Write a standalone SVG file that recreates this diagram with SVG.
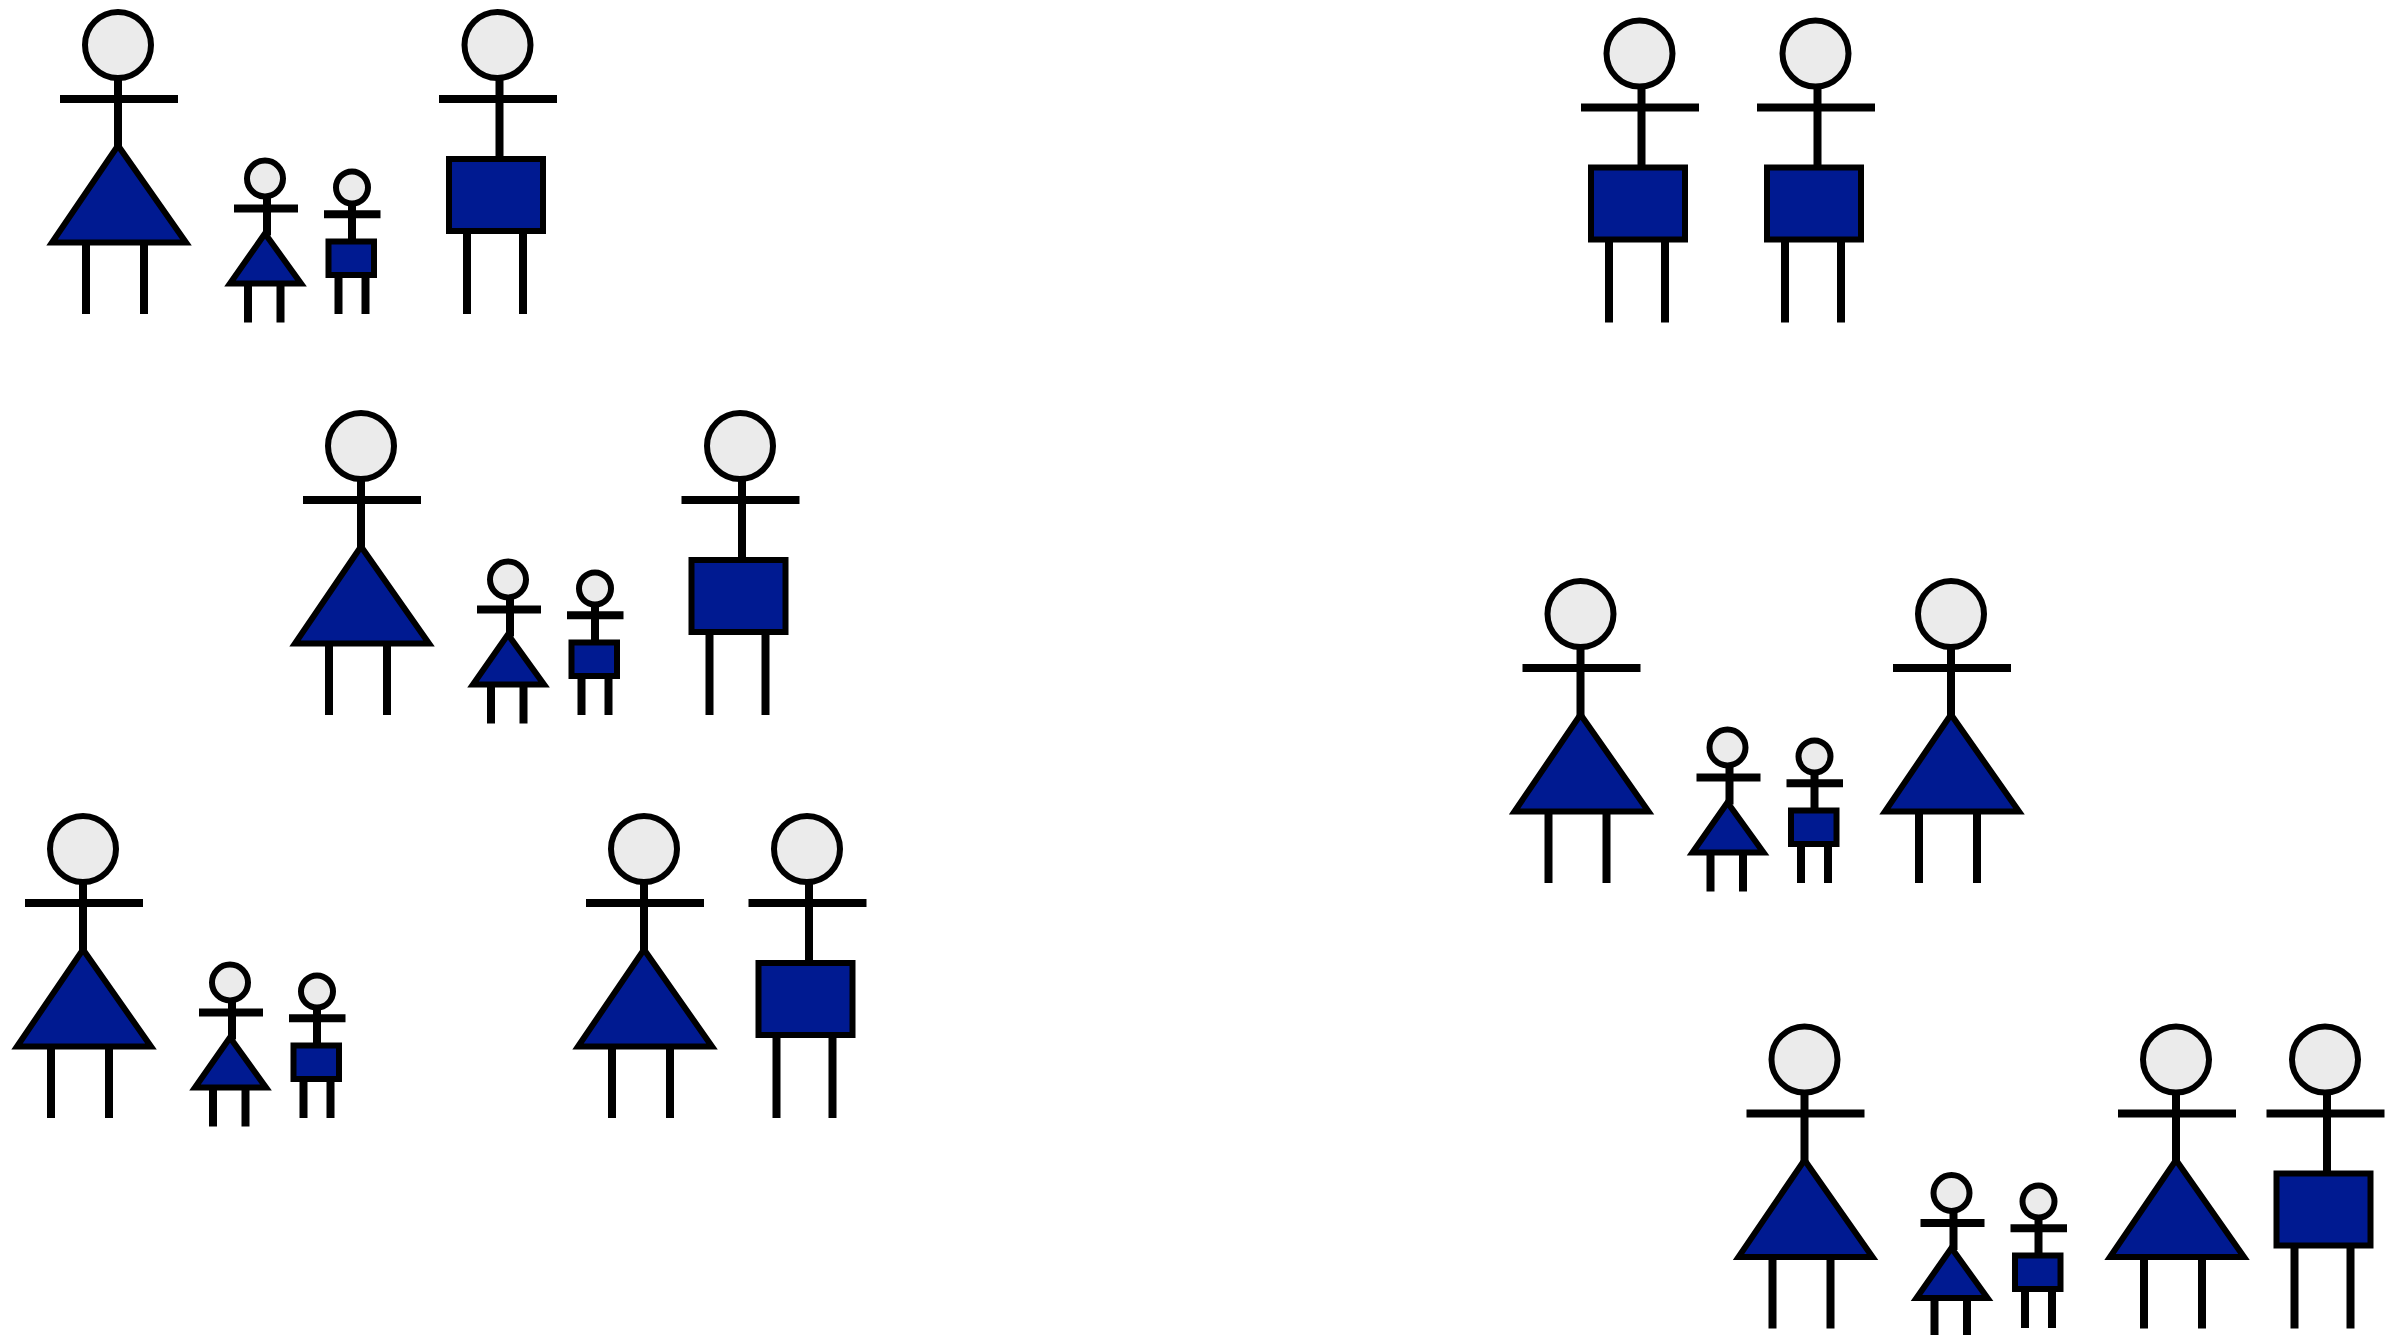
<svg xmlns="http://www.w3.org/2000/svg" xmlns:xlink="http://www.w3.org/1999/xlink" width="2399" height="1335" viewBox="0 0 2399 1335">
<style>
.b{fill:#001a91;stroke:#000;stroke-width:6;stroke-linejoin:miter}
.h{fill:#ebebeb;stroke:#000;stroke-width:6}
.l{stroke:#000;stroke-width:8;fill:none}
.a{stroke:#000;stroke-width:8;fill:none}
</style>
<defs>
<g id="woman"><path class="l" d="M0 33V102M-32 198V269M26 198V269"/><path class="a" d="M-58 54H60"/><circle class="h" r="33"/><path class="b" d="M0 100.500L68 197.500H-66Z"/></g>
<g id="man"><path class="l" d="M2 33V114M-30.500 186V269M25.500 186V269"/><path class="a" d="M-58.500 54H59.500"/><circle class="h" r="33"/><rect class="b" x="-48.500" y="114" width="94" height="72"/></g>
<g id="girl"><path class="l" d="M2 18V57M-17 105V144M15.500 105V144"/><path class="a" d="M-31 30H33"/><circle class="h" r="18"/><path class="b" d="M0 55L36 105H-35Z"/></g>
<g id="boy"><path class="l" d="M0 16V54M-13.500 87V126.500M13.500 87V126.500"/><path class="a" d="M-28 26.700H28.500"/><circle class="h" r="16"/><rect class="b" x="-23.500" y="54" width="45.500" height="33.500"/></g>
</defs>
<g id="connectors"/>
<rect width="2399" height="1335" fill="#fff"/>
<g id="family1">
<use id="n1" href="#woman" x="118" y="45"/><use id="n2" href="#girl" x="265" y="178.500"/><use id="n3" href="#boy" x="352" y="187.500"/><use id="n4" href="#man" x="497.500" y="45"/>
</g>
<g id="family2">
<use id="n5" href="#woman" x="361" y="446"/><use id="n6" href="#girl" x="508" y="579.500"/><use id="n7" href="#boy" x="595" y="588.500"/><use id="n8" href="#man" x="740" y="446"/>
</g>
<g id="family3">
<use id="n9" href="#woman" x="83" y="849"/><use id="n10" href="#girl" x="230" y="982.500"/><use id="n11" href="#boy" x="317" y="991.500"/><use id="n12" href="#woman" x="644" y="849"/><use id="n13" href="#man" x="807" y="849"/>
</g>
<g id="family4">
<use id="n14" href="#man" x="1639.500" y="53.500"/><use id="n15" href="#man" x="1815.500" y="53.500"/>
</g>
<g id="family5">
<use id="n16" href="#woman" x="1580.500" y="614"/><use id="n17" href="#girl" x="1727.500" y="747.500"/><use id="n18" href="#boy" x="1814.500" y="756.500"/><use id="n19" href="#woman" x="1951" y="614"/>
</g>
<g id="family6">
<use id="n20" href="#woman" x="1804.500" y="1059.500"/><use id="n21" href="#girl" x="1951.500" y="1193"/><use id="n22" href="#boy" x="2038.500" y="1201.500"/><use id="n23" href="#woman" x="2176" y="1059.500"/><use id="n24" href="#man" x="2325" y="1059.500"/>
</g>
</svg>
